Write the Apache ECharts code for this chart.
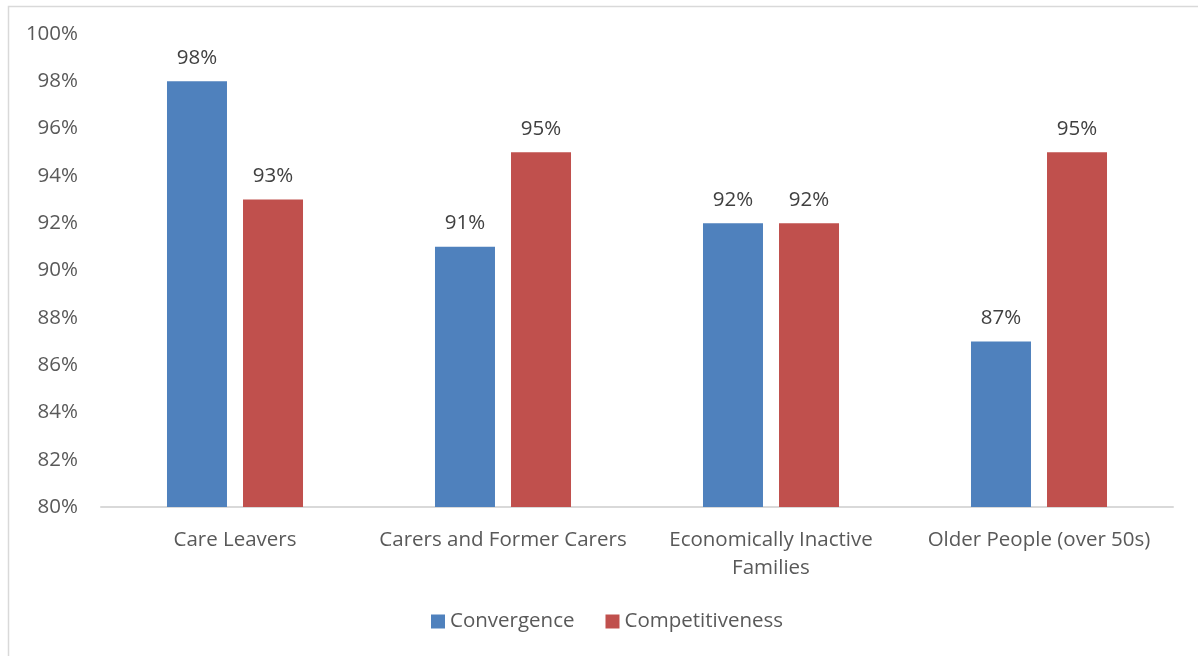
<!DOCTYPE html>
<html>
<head>
<meta charset="utf-8">
<script src="https://cdn.jsdelivr.net/npm/echarts@6/dist/echarts.min.js"></script>
<style>
  html, body { margin: 0; padding: 0; background: #ffffff; }
  #chart { width: 1198px; height: 656px; }
</style>
</head>
<body>
<div id="chart"></div>
<script>
// Share of participants by group and programme (percent)
const categories = ['Care Leavers', 'Carers and Former Carers', 'Economically Inactive\nFamilies', 'Older People (over 50s)'];
const convergence = [98, 91, 92, 87];
const competitiveness = [93, 95, 92, 95];
const yTicks = { min: 80, max: 100, step: 2 };

const FONT = '"Open Sans", "Liberation Sans", sans-serif';
const FS = 20.5;
const chart = echarts.init(document.getElementById('chart'), null, { renderer: 'canvas' });

const labelStyle = {
  show: true,
  position: 'top',
  distance: 13,
  color: '#404040',
  fontFamily: FONT,
  fontSize: FS,
  formatter: p => p.value + '%'
};

chart.setOption({
  animation: false,
  backgroundColor: '#ffffff',
  graphic: [{
    type: 'rect',
    shape: { x: 8.5, y: 6.5, width: 1300, height: 800 },
    style: { fill: 'none', stroke: '#d9d9d9', lineWidth: 1.5 },
    silent: true
  }],
  grid: { left: 101, right: 25, top: 34, bottom: 149, containLabel: false },
  legend: {
    left: 426,
    top: 606,
    itemWidth: 14,
    itemHeight: 14,
    itemGap: 31,
    icon: 'rect',
    textStyle: { color: '#595959', fontFamily: FONT, fontSize: FS },
    data: ['Convergence', 'Competitiveness']
  },
  xAxis: {
    type: 'category',
    data: categories,
    axisLine: { lineStyle: { color: '#d9d9d9', width: 2 } },
    axisTick: { show: false },
    axisLabel: {
      color: '#595959',
      fontFamily: FONT,
      fontSize: FS,
      lineHeight: 28,
      margin: 19,
      interval: 0
    }
  },
  yAxis: {
    type: 'value',
    min: yTicks.min,
    max: yTicks.max,
    interval: yTicks.step,
    axisLine: { show: false },
    axisTick: { show: false },
    splitLine: { show: false },
    axisLabel: {
      color: '#595959',
      fontFamily: FONT,
      fontSize: FS,
      margin: 23,
      formatter: v => v + '%'
    }
  },
  series: [
    {
      name: 'Convergence',
      type: 'bar',
      data: convergence,
      barWidth: 60,
      barGap: '26.7%',
      itemStyle: { color: '#4f81bd' },
      label: labelStyle
    },
    {
      name: 'Competitiveness',
      type: 'bar',
      data: competitiveness,
      barWidth: 60,
      itemStyle: { color: '#c0504d' },
      label: labelStyle
    }
  ]
});
</script>
</body>
</html>
